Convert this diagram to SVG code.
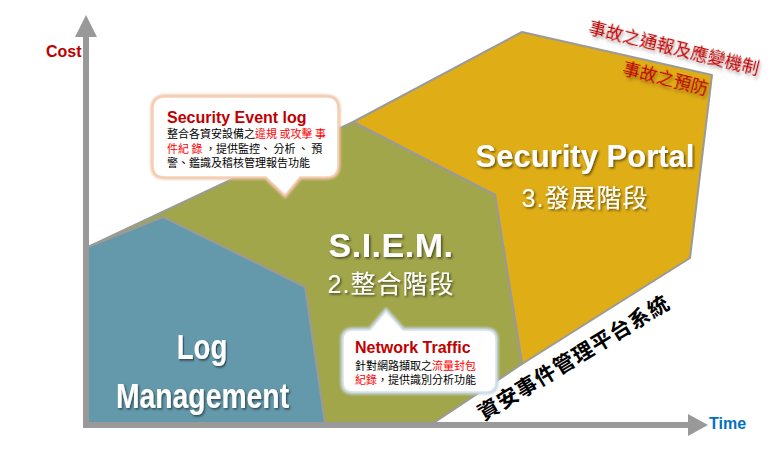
<svg xmlns="http://www.w3.org/2000/svg" width="776" height="449" viewBox="0 0 776 449">
<style>
.ax{fill:#999999}
.stage{stroke:#9a9a9a;stroke-width:2;stroke-linejoin:round}
.big{font-family:"Liberation Sans","Noto Sans CJK TC",sans-serif;fill:#ffffff;font-weight:bold}
.sub{font-family:"Liberation Sans","Noto Sans CJK TC",sans-serif;fill:#ffffff;font-size:25px;letter-spacing:1px}
.cjk{font-family:"Noto Sans CJK TC",sans-serif}
.small{font-family:"Noto Sans CJK TC",sans-serif;font-size:11px;fill:#000000}
.hl{fill:#ff0000}
.ttl{font-family:"Liberation Sans",sans-serif;font-weight:bold;font-size:16px;fill:#c00000}
.axl{font-family:"Liberation Sans",sans-serif;font-weight:bold;font-size:16px}
.rot{font-family:"Noto Sans CJK TC",sans-serif;font-size:17.5px;fill:#c00000}
</style>
<defs>
<filter id="sh" x="-10%" y="-20%" width="130%" height="150%">
<feDropShadow dx="1.5" dy="1.5" stdDeviation="1" flood-color="#000000" flood-opacity="0.55"/>
</filter>
<filter id="sh2" x="-10%" y="-20%" width="130%" height="160%">
<feDropShadow dx="2" dy="2.5" stdDeviation="1.5" flood-color="#000000" flood-opacity="0.35"/>
</filter>
<filter id="glow" x="-10%" y="-10%" width="120%" height="130%">
<feGaussianBlur stdDeviation="1"/>
</filter>
</defs>
<rect width="776" height="449" fill="#ffffff"/>

<g id="security-portal">
<polygon class="stage" fill="#dfad16" points="353,122 522,32 712,75 690,258 522,364 495,195"/>
<text class="big" x="585" y="167" font-size="31" text-anchor="middle" filter="url(#sh)">Security Portal</text>
<text class="sub" x="585" y="207" text-anchor="middle" filter="url(#sh)">3.發展階段</text>
</g>

<g id="siem">
<polygon class="stage" fill="#a2a64a" points="88,247 353,122 495,195 522,364 432,424 88,424"/>
<text class="big" x="391" y="257" font-size="34" letter-spacing="0.5" text-anchor="middle" filter="url(#sh)">S.I.E.M.</text>
<text class="sub" x="391" y="293" text-anchor="middle" filter="url(#sh)">2.整合階段</text>
</g>

<g id="log-management">
<polygon class="stage" fill="#6399aa" points="88,247 163,217 305,287 325,424 88,424"/>
<text class="big" font-size="35" text-anchor="middle" transform="translate(202,359) scale(0.79,1)" filter="url(#sh)">Log</text>
<text class="big" font-size="35" text-anchor="middle" transform="translate(202.5,408) scale(0.81,1)" filter="url(#sh)">Management</text>
</g>

<g id="connectors">
<rect class="ax" x="83" y="36" width="6" height="392"/>
<polygon class="ax" points="86,15 97,37 75,37"/>
<rect class="ax" x="83" y="422" width="606" height="6"/>
<polygon class="ax" points="708,425 688,414 688,436"/>
</g>

<g id="axis-labels">
<text class="axl" x="46" y="57" fill="#c00000">Cost</text>
<text class="axl" x="709" y="429" fill="#0070c0">Time</text>
</g>

<g id="callout-event-log">
<path d="M165,97 H326 Q338,97 338,109 V165 Q338,177 326,177 H300 L285,195 L266,177 H165 Q153,177 153,165 V109 Q153,97 165,97 Z" fill="none" stroke="#f2c2a2" stroke-width="5" filter="url(#glow)"/>
<path d="M165,97 H326 Q338,97 338,109 V165 Q338,177 326,177 H300 L285,195 L266,177 H165 Q153,177 153,165 V109 Q153,97 165,97 Z" fill="#ffffff" stroke="#f4d2bb" stroke-width="1.5"/>
<text class="ttl" x="167" y="123">Security Event log</text>
<text class="small" x="167" y="138">整合各資安設備之<tspan class="hl">違規 或攻擊 事</tspan></text>
<text class="small" x="167" y="153"><tspan class="hl">件紀 錄</tspan> ，提供監控、 分析 、 預</text>
<text class="small" x="167" y="167">警、鑑識及稽核管理報告功能</text>
</g>

<g id="callout-network-traffic">
<path d="M353,330 H370 L386,311 L403,330 H486 Q496,330 496,340 V382 Q496,392 486,392 H353 Q343,392 343,382 V340 Q343,330 353,330 Z" fill="none" stroke="#c6d6e2" stroke-width="5" filter="url(#glow)"/>
<path d="M353,330 H370 L386,311 L403,330 H486 Q496,330 496,340 V382 Q496,392 486,392 H353 Q343,392 343,382 V340 Q343,330 353,330 Z" fill="#ffffff" stroke="#d6e2ea" stroke-width="1.5"/>
<text class="ttl" x="355" y="353">Network Traffic</text>
<text class="small" x="355" y="370" font-size="11.3">針對網路擷取之<tspan class="hl">流量封包</tspan></text>
<text class="small" x="355" y="384"><tspan class="hl">紀錄</tspan>，提供識別分析功能</text>
</g>

<g id="annotations">
<text class="rot" text-anchor="middle" dominant-baseline="central" transform="translate(674.5,46) rotate(13.8)" filter="url(#sh2)">事故之通報及應變機制</text>
<text class="rot" text-anchor="middle" dominant-baseline="central" transform="translate(666,76.5) rotate(14)" filter="url(#sh2)">事故之預防</text>
<text class="cjk" font-size="21" font-weight="bold" letter-spacing="1" fill="#000000" text-anchor="middle" dominant-baseline="central" transform="translate(573,356.5) rotate(-31.2)">資安事件管理平台系統</text>
</g>
</svg>
